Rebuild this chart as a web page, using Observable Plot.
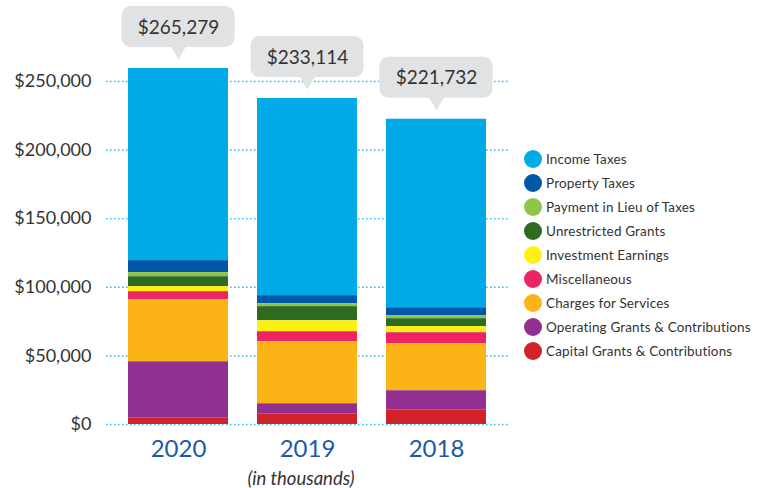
<!DOCTYPE html>
<html><head><meta charset="utf-8">
<script src="https://cdn.jsdelivr.net/npm/d3@7"></script>
<script src="https://cdn.jsdelivr.net/npm/@observablehq/plot@0.6"></script>
<style>
body{margin:0;background:#fff;font-family:Lato,sans-serif;overflow:hidden;}
#wrap{position:relative;width:771px;height:488px;}
#legend{position:absolute;left:524px;top:147px;}
.row{display:flex;align-items:center;height:24.05px;font-size:13.5px;letter-spacing:0.15px;color:#333;white-space:nowrap;}
.sw{width:18px;height:18px;border-radius:50%;margin-right:4px;flex:none;}
</style></head><body><div id="wrap"><div id="legend"></div></div>
<script>
const years = ["2020", "2019", "2018"];
const categories = ["Income Taxes", "Property Taxes", "Payment in Lieu of Taxes", "Unrestricted Grants",
  "Investment Earnings", "Miscellaneous", "Charges for Services",
  "Operating Grants & Contributions", "Capital Grants & Contributions"];
const colors = ["#00aae7", "#0057a8", "#8dc44a", "#2f6a22", "#fff014", "#ee2462", "#fcb316", "#913090", "#d12229"];
// values in thousands, per year (2020, 2019, 2018)
const incomeTaxes = [140100, 143700, 137400];
const propertyTaxes = [8700, 5800, 5800];
const paymentInLieu = [3000, 2200, 2200];
const unrestrictedGrants = [7200, 10300, 5800];
const investmentEarnings = [3700, 8000, 4400];
const miscellaneous = [5800, 7300, 8000];
const chargesForServices = [45300, 45200, 34300];
const operatingGrants = [40800, 7300, 13900];
const capitalGrants = [4900, 7800, 10700];
const totalLabels = ["$265,279", "$233,114", "$221,732"];
const yTicks = [0, 50000, 100000, 150000, 200000, 250000];
const footnote = "(in thousands)";

const series = [incomeTaxes, propertyTaxes, paymentInLieu, unrestrictedGrants, investmentEarnings,
  miscellaneous, chargesForServices, operatingGrants, capitalGrants];
const data = [];
categories.forEach((c, i) => years.forEach((y, j) => data.push({year: y, category: c, value: series[i][j]})));
const totals = years.map((y, j) => ({year: y, top: d3.sum(series, s => s[j]), label: totalLabels[j]}));
const stackOrder = categories.slice().reverse();

const chart = Plot.plot({
  width: 771, height: 488,
  marginLeft: 106, marginRight: 262, marginTop: 81, marginBottom: 64,
  style: {fontFamily: "Lato, sans-serif", background: "transparent", overflow: "visible"},
  x: {domain: years, paddingInner: 0.222, paddingOuter: 0.17, label: null},
  y: {domain: [0, 250000], label: null},
  color: {domain: categories, range: colors},
  marks: [
    Plot.ruleY(yTicks, {stroke: "#3fb3e5", strokeDasharray: "1.5,2.5", strokeWidth: 1.5}),
    Plot.barY(data, {x: "year", y: "value", fill: "category", order: stackOrder}),
    Plot.axisY({ticks: yTicks, tickFormat: d => "$" + d3.format(",")(d), tickSize: 0, tickPadding: 15,
      fontSize: 18, color: "#333", label: null}),
    Plot.axisX({tickSize: 0, tickPadding: 15, fontSize: 24, color: "#1a5aa8", label: null}),
    Plot.barY(totals, {x: "year", y1: "top", y2: "top", insetLeft: -6.5, insetRight: -6.5,
      insetTop: -62, insetBottom: 21, rx: 9, fill: "#e1e2e4"}),
    Plot.dot(totals, {x: "year", y: "top", symbol: "triangle", rotate: 180, r: 6.5, dy: -19, fill: "#e1e2e4"}),
    Plot.text(totals, {x: "year", y: "top", text: "label", dy: -41, fontSize: 19, fill: "#333"}),
    Plot.text([footnote], {frameAnchor: "bottom", lineAnchor: "middle", dy: 55, dx: -7, fontStyle: "italic", fontSize: 18.5, fill: "#333"})
  ]
});
document.getElementById("wrap").prepend(chart);

const legend = document.getElementById("legend");
categories.forEach((c, i) => {
  const row = document.createElement("div");
  row.className = "row";
  const sw = document.createElement("span");
  sw.className = "sw";
  sw.style.background = colors[i];
  const t = document.createElement("span");
  t.textContent = c;
  row.append(sw, t);
  legend.append(row);
});
</script></body></html>
